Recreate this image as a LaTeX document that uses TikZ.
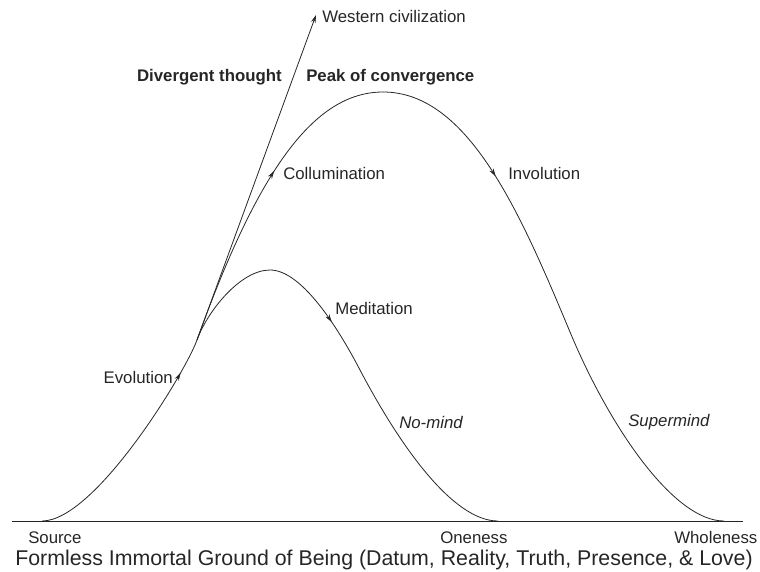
\documentclass[tikz,border=0pt]{standalone}
\usepackage{fontspec}
\setmainfont{Liberation Sans}
\usetikzlibrary{arrows.meta,decorations.markings}
\tikzset{
  curve/.style={line width=0.6pt, black!85},
  arrowat/.style={postaction={decorate},
    decoration={markings, mark=at position #1 with {\arrow{Stealth[length=6pt,width=3.5pt]}}}},
  lbl/.style={font=\fontsize{12.6}{15}\selectfont, inner sep=0pt, text=black!85},
  lblbold/.style={lbl, font=\fontsize{12.6}{15}\selectfont\bfseries},
  lblbig/.style={lbl, font=\fontsize{16}{19}\selectfont},
}
\begin{document}
\begin{tikzpicture}[x=0.75pt,y=-0.75pt]
  \useasboundingbox (0,0) rectangle (760,571);
  % ground line
  \coordinate (b1) at (12,521); \coordinate (b2) at (743,521);
  \draw[curve] (b1) -- (b2);
  % points of the two bells
  \coordinate (s) at (42,521);   % source
  \coordinate (j) at (197,340);  % where the curves part
  \coordinate (p1) at (270,270); \coordinate (i1) at (360,370); \coordinate (e1) at (498,521);
  \coordinate (p2) at (383,92);  \coordinate (i2) at (570,332); \coordinate (e2) at (724,521);
  \coordinate (wt) at (316,15);  % tip of the straight line
  % shared rise
  \draw[curve, arrowat=0.85] (s) .. controls (95,521) and (185,373) .. (j);
  % small bell
  \draw[curve] (j) .. controls (207,312) and (240,270) .. (p1);
  \draw[curve, arrowat=0.6] (p1) .. controls (300,270) and (335,322) .. (i1);
  \draw[curve] (i1) .. controls (400,446) and (453,521) .. (e1);
  % big bell
  \draw[curve, arrowat=0.57] (j) .. controls (257,173) and (313,92) .. (p2);
  \draw[curve, arrowat=0.46] (p2) .. controls (468,92) and (520,212) .. (i2);
  \draw[curve] (i2) .. controls (610,428) and (674,521) .. (e2);
  % divergent line
  \draw[curve, -{Stealth[length=6pt,width=3.5pt]}] (j) -- (wt);
  % labels
  \node[lbl, anchor=west] (west) at (322,16) {Western civilization};
  \node[lblbold, anchor=east] (div) at (282,77) {Divergent thought};
  \node[lblbold, anchor=west] (peak) at (306,77) {Peak of convergence};
  \node[lbl, anchor=west] (coll) at (283,173) {Collumination};
  \node[lbl, anchor=west] (inv) at (508,173) {Involution};
  \node[lbl, anchor=west] (med) at (335,308) {Meditation};
  \node[lbl, anchor=east] (evo) at (173,377) {Evolution};
  \node[lbl, anchor=west] (nomind) at (399,422) {\itshape No-mind};
  \node[lbl, anchor=west] (supmind) at (628,422) {\itshape Supermind};
  \node[lbl, anchor=base west] (src) at (28,543) {Source};
  \node[lbl, anchor=base west] (one) at (440,543) {Oneness};
  \node[lbl, anchor=base west] (whole) at (674,543) {Wholeness};
  \node[lblbig, anchor=base west] (ground) at (15,565) {Formless Immortal Ground of Being (Datum, Reality, Truth, Presence, \& Love)};
\end{tikzpicture}
\end{document}
